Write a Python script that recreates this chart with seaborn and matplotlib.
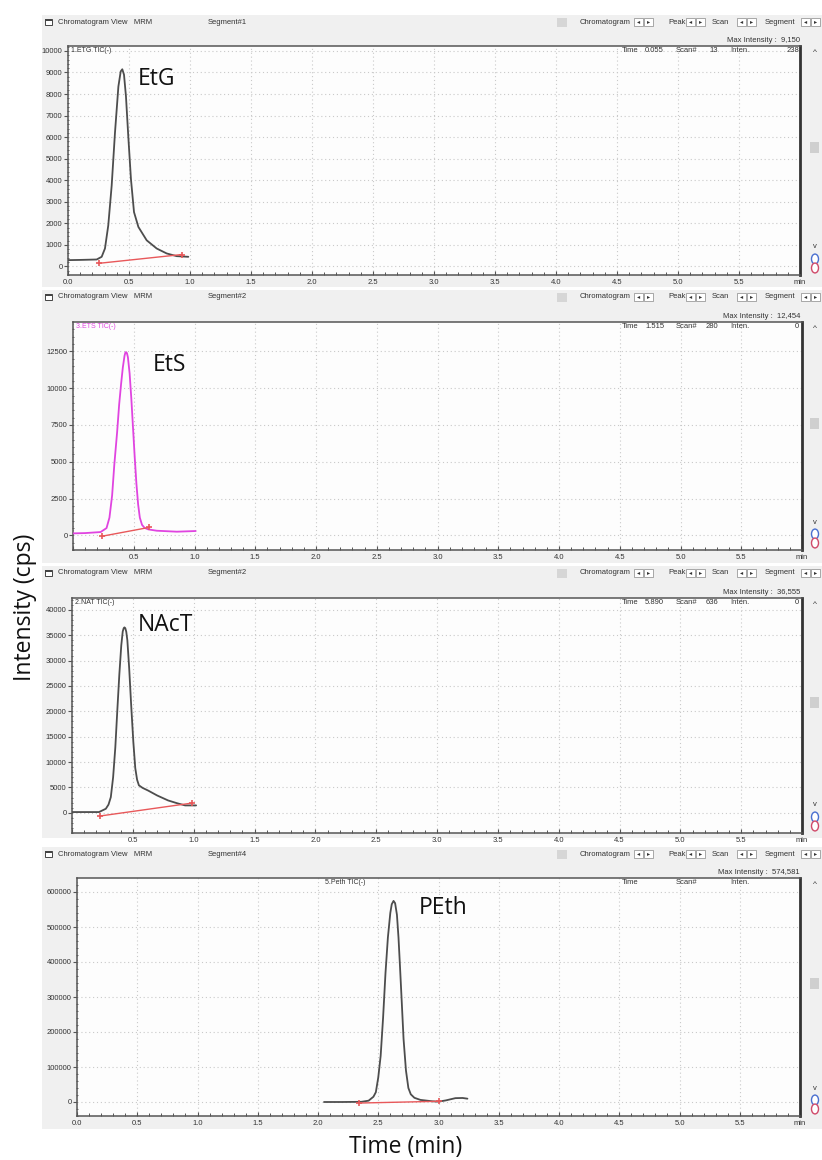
import numpy as np
import matplotlib
matplotlib.use("Agg")
import matplotlib.pyplot as plt
from matplotlib.patches import Rectangle, Circle
import seaborn as sns

# chromatogram traces (time in min, intensity in cps)
etg_time = [0.0, 0.10, 0.235, 0.276, 0.303, 0.33, 0.358, 0.385, 0.413, 0.432, 0.445, 0.459, 0.475, 0.494,
            0.516, 0.541, 0.577, 0.645, 0.727, 0.809, 0.891, 0.986]
etg_int = [290, 300, 320, 445, 830, 1900, 3750, 6200, 8350, 9050, 9150, 8900, 7900, 6050,
           4050, 2520, 1830, 1210, 830, 600, 475, 445]
etg_base_time = [0.25, 0.932]
etg_base_int = [140, 550]

ets_time = [0.0, 0.10, 0.227, 0.276, 0.30, 0.322, 0.34, 0.363, 0.38, 0.396, 0.41, 0.424, 0.431, 0.437, 0.444,
            0.452, 0.466, 0.48, 0.494, 0.508, 0.522, 0.536, 0.55, 0.568, 0.59, 0.62, 0.69, 0.855, 1.01]
ets_int = [130, 150, 220, 490, 1200, 2710, 4800, 7000, 8900, 10300, 11400, 12200, 12420, 12454, 12380,
           12100, 11000, 9300, 7300, 5300, 3500, 2100, 1200, 710, 500, 400, 310, 245, 290]
ets_base_time = [0.235, 0.623]
ets_base_int = [-70, 530]

nat_time = [0.0, 0.10, 0.222, 0.278, 0.30, 0.319, 0.338, 0.356, 0.372, 0.389, 0.405, 0.417, 0.425, 0.431, 0.438,
            0.446, 0.455, 0.47, 0.486, 0.504, 0.52, 0.535, 0.55, 0.58, 0.625, 0.70, 0.79, 0.86, 0.93, 1.02]
nat_int = [130, 130, 130, 780, 1600, 3070, 7000, 12880, 20000, 27250, 33000, 35750, 36400, 36555, 36400,
           35700, 34000, 28500, 21370, 14000, 8800, 6500, 5400, 4900, 4380, 3400, 2420, 1900, 1440, 1440]
nat_base_time = [0.23, 0.986]
nat_base_int = [-650, 1900]

peth_time = [2.05, 2.20, 2.36, 2.42, 2.46, 2.48, 2.50, 2.52, 2.54, 2.56, 2.58, 2.60, 2.612, 2.627, 2.64, 2.655,
             2.668, 2.68, 2.694, 2.71, 2.73, 2.75, 2.77, 2.80, 2.85, 2.95, 3.00, 3.06, 3.14, 3.20, 3.24]
peth_int = [0, 0, 500, 3800, 15000, 28000, 70000, 132000, 240000, 368000, 470000, 540000, 565000, 574581, 568000,
            535000, 470000, 390000, 293000, 180000, 90000, 40000, 22000, 12000, 6000, 2000, 1000, 4500, 11000,
            11500, 9500]
peth_base_time = [2.34, 3.0]
peth_base_int = [-3000, 2000]

compounds = ["EtG", "EtS", "NAcT", "PEth"]
trace_names = ["1.ETG TIC(-)", "3.ETS TIC(-)", "2.NAT TIC(-)", "5.Peth TIC(-)"]
segments = ["Segment#1", "Segment#2", "Segment#2", "Segment#4"]
max_intensity = ["9,150", "12,454", "36,555", "574,581"]
cursor_time = ["0.055", "1.515", "5.890", ""]
cursor_scan = ["13", "280", "636", ""]
cursor_inten = ["238", "0", "0", ""]
x_ticks = [0.0, 0.5, 1.0, 1.5, 2.0, 2.5, 3.0, 3.5, 4.0, 4.5, 5.0, 5.5, 6.0]

W, H = 822, 1160
fig = plt.figure(figsize=(W / 100, H / 100), dpi=100)
sns.set_theme(style="white")
plt.rcParams['font.family'] = ['Liberation Sans', 'DejaVu Sans']
fig.patch.set_facecolor("white")

UI = ['Liberation Sans', 'DejaVu Sans']
BIG = ["Open Sans", "DejaVu Sans"]
dark = "#4d4d4d"
magenta = "#e044e0"
red = "#e8585a"


def ftext(x, y, s, **kw):
    kw.setdefault("family", UI)
    kw.setdefault("fontsize", 5.5)
    kw.setdefault("color", "#333333")
    kw.setdefault("va", "center")
    return fig.text(x / W, 1 - y / H, s, **kw)


def frect(x0, y0, x1, y1, **kw):
    r = Rectangle((x0 / W, 1 - y1 / H), (x1 - x0) / W, (y1 - y0) / H, transform=fig.transFigure, **kw)
    fig.add_artist(r)
    return r


panels = [
    dict(t=etg_time, v=etg_int, bt=etg_base_time, bv=etg_base_int, color=dark,
         frame=(68, 46, 800, 275), gray=(42, 15, 822, 287), ylim=(-320, 10230),
         ymajor=1000, yminor=200, ymax=10000, show0=True, name_xy=(156, 79), trace_x=71),
    dict(t=ets_time, v=ets_int, bt=ets_base_time, bv=ets_base_int, color=magenta,
         frame=(73, 322, 802, 550), gray=(42, 290, 822, 563), ylim=(-735, 14500),
         ymajor=2500, yminor=500, ymax=12500, show0=False, name_xy=(169, 365), trace_x=74),
    dict(t=nat_time, v=nat_int, bt=nat_base_time, bv=nat_base_int, color=dark,
         frame=(72, 598, 802, 833), gray=(42, 566, 822, 838), ylim=(-3700, 42350),
         ymajor=5000, yminor=1000, ymax=40000, show0=False, name_xy=(165, 625), trace_x=73),
    dict(t=peth_time, v=peth_int, bt=peth_base_time, bv=peth_base_int, color=dark,
         frame=(77, 878, 800, 1116), gray=(42, 847, 822, 1129), ylim=(-37000, 640000),
         ymajor=100000, yminor=20000, ymax=600000, show0=True, name_xy=(443, 908), trace_x=325),
]

for i, p in enumerate(panels):
    gx0, gy0, gx1, gy1 = p["gray"]
    fx0, fy0, fx1, fy1 = p["frame"]
    frect(gx0, gy0, gx1, gy1, facecolor="#f0f0f0", edgecolor="none", zorder=-10)

    ax = fig.add_axes([fx0 / W, 1 - fy1 / H, (fx1 - fx0) / W, (fy1 - fy0) / H])
    ax.set_facecolor("#fdfdfd")

    sns.lineplot(x=p["t"], y=p["v"], ax=ax, color=p["color"], linewidth=1.3,
                 sort=False, estimator=None, zorder=3)
    sns.lineplot(x=p["bt"], y=p["bv"], ax=ax, color=red, linewidth=1.0,
                 sort=False, estimator=None, marker="+", markersize=5,
                 markeredgewidth=1.2, markeredgecolor=red, zorder=4)

    ax.set_xlim(0, 6.0)
    ax.set_ylim(*p["ylim"])
    ax.set_xticks(x_ticks)
    xl = [f"{v:.1f}" for v in x_ticks]
    xl[-1] = "min"
    if not p["show0"]:
        xl[0] = ""
    ax.set_xticklabels(xl)
    ax.set_xticks(np.arange(0, 6.01, 0.1), minor=True)
    yt = np.arange(0, p["ymax"] + 1, p["ymajor"])
    ax.set_yticks(yt)
    ax.set_yticklabels([f"{int(v)}" for v in yt])
    ax.set_yticks(np.arange(p["ylim"][0] - p["ylim"][0] % p["yminor"], p["ylim"][1], p["yminor"]), minor=True)

    ax.tick_params(axis="x", which="major", direction="in", length=3, width=0.8,
                   color="#555555", labelsize=5.5, labelcolor="#333333", pad=3)
    ax.tick_params(axis="x", which="minor", direction="in", length=2, width=0.7, color="#555555")
    ax.tick_params(axis="y", which="major", direction="out", length=3, width=0.8,
                   color="#555555", labelsize=5.5, labelcolor="#333333", pad=1)
    ax.tick_params(axis="y", which="minor", direction="inout", length=2, width=0.6, color="#555555")
    ax.tick_params(left=True, bottom=True, which="both")

    ax.grid(True, which="major", color="#c9c9c9", linewidth=0.8, linestyle=(0, (1, 2.5)))
    ax.set_xlabel("")
    ax.set_ylabel("")
    for side in ["left", "bottom", "top"]:
        ax.spines[side].set_color("#555555")
        ax.spines[side].set_linewidth(1.1)
    ax.spines["right"].set_color("#333333")
    ax.spines["right"].set_linewidth(2.0)

    # header row of the software window
    hy = gy0 + 7
    frect(45, hy - 3, 52, hy + 3, facecolor="white", edgecolor="#444444", linewidth=0.7)
    frect(45, hy - 3, 52, hy - 1, facecolor="#444444", edgecolor="none")
    ftext(58, hy, "Chromatogram View   MRM")
    ftext(208, hy, segments[i])
    frect(557, hy - 4, 567, hy + 5, facecolor="#d6d6d6", edgecolor="none")
    for label, lx, bx in [("Chromatogram", 580, 634), ("Peak", 668, 686), ("Scan", 712, 737), ("Segment", 765, 801)]:
        ftext(lx, hy, label)
        for k, arrow in enumerate(["◂", "▸"]):
            frect(bx + k * 10, hy - 4, bx + k * 10 + 9, hy + 4, facecolor="white", edgecolor="#888888", linewidth=0.5)
            ftext(bx + k * 10 + 4.5, hy, arrow, ha="center", fontsize=4.5, family=['DejaVu Sans'])

    ftext(800, fy0 - 5, f"Max Intensity :  {max_intensity[i]}", ha="right")
    ftext(fx0 + 3 if i < 3 else p["trace_x"], fy0 + 4, trace_names[i], ha="left",
          color=magenta if i == 1 else "#333333", fontsize=5)
    ftext(622, fy0 + 4, "Time")
    ftext(645, fy0 + 4, cursor_time[i])
    ftext(676, fy0 + 4, "Scan#")
    ftext(718, fy0 + 4, cursor_scan[i], ha="right")
    ftext(730, fy0 + 4, "Inten.")
    ftext(799, fy0 + 4, cursor_inten[i], ha="right")

    # scrollbar on the right
    fh = fy1 - fy0
    ftext(815, fy0 + 6, "^", ha="center", fontsize=6)
    frect(810, fy0 + 0.42 * fh, 819, fy0 + 0.42 * fh + 11, facecolor="#cfcfcf", edgecolor="none")
    ftext(815, fy1 - 28, "v", ha="center", fontsize=5.5)
    for cy, cc in [(fy1 - 16, "#4a6fd0"), (fy1 - 7, "#d04a6a")]:
        fig.add_artist(Circle((815 / W, 1 - cy / H), 3.5 / W, transform=fig.transFigure,
                              facecolor="white", edgecolor=cc, linewidth=1.0))

    # compound name
    nx, ny = p["name_xy"]
    ftext(nx, ny, compounds[i], ha="center", fontsize=16.5, color="#111111", family=BIG)

ftext(406, 1147, "Time (min)", ha="center", fontsize=16.5, color="#111111", family=BIG)
ftext(25, 607, "Intensity (cps)", ha="center", rotation=90, fontsize=16.5, color="#111111", family=BIG)

fig.savefig("out.png", dpi=100)
